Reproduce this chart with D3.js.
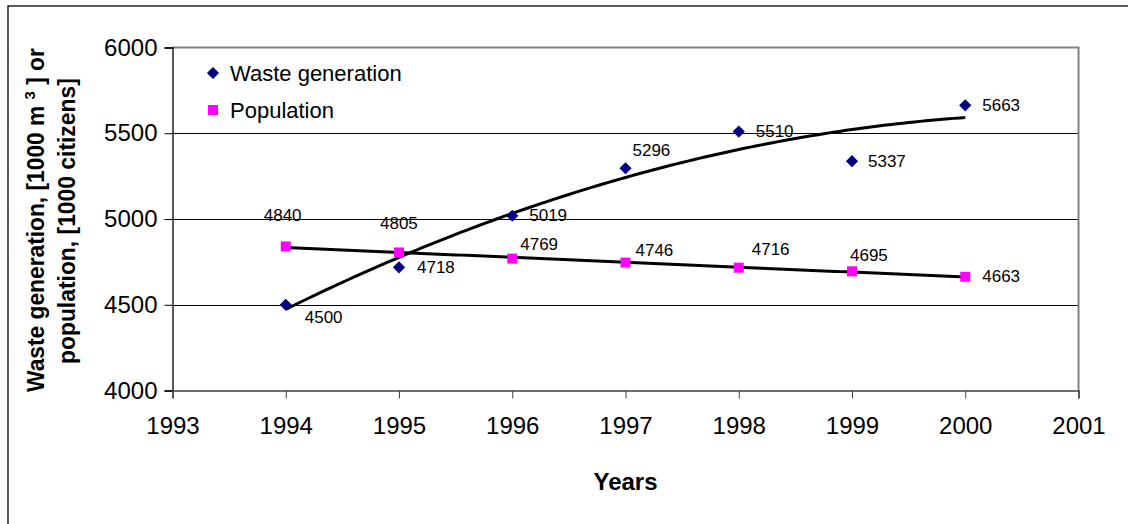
<!DOCTYPE html>
<html><head><meta charset="utf-8">
<script src="https://cdn.jsdelivr.net/npm/d3@7"></script>
<style>body{margin:0;background:#fff}svg{display:block;font-family:"Liberation Sans",Arial,sans-serif}</style>
</head><body><svg id="c" width="1128" height="524"></svg>
<script>
const years = [1994, 1995, 1996, 1997, 1998, 1999, 2000];
const waste = [4500, 4718, 5019, 5296, 5510, 5337, 5663];
const population = [4840, 4805, 4769, 4746, 4716, 4695, 4663];
const xTicks = [1993, 1994, 1995, 1996, 1997, 1998, 1999, 2000, 2001];
const yTicks = [4000, 4500, 5000, 5500, 6000];
const seriesNames = ["Waste generation", "Population"];
// label offsets (layout only): [dx, dy] relative to point, text-anchor start
const wasteLabelOff = [[19,12],[18,0],[17,-1],[7,-18],[17,0],[16,0],[17,0]];
const popLabelOff = [[-22,-31],[-19,-29],[8,-15],[10,-13],[13,-19],[-2,-16],[17,-1]];

const svg = d3.select("#c");
const m = {l:172.5, r:1078.5, t:47.5, b:390.5};
const x = d3.scaleLinear().domain([1993, 2001]).range([m.l, m.r]);
const y = d3.scaleLinear().domain([4000, 6000]).range([m.b, m.t]);

// outer border
svg.append("rect").attr("x",8).attr("y",6).attr("width",1200).attr("height",600)
  .attr("fill","none").attr("stroke","#000").attr("stroke-width",1.3);

// gridlines
svg.append("g").selectAll("line").data(yTicks.filter(d=>d>4000 && d<6000)).join("line")
  .attr("x1",m.l).attr("x2",m.r).attr("y1",d=>Math.round(y(d))+0.5).attr("y2",d=>Math.round(y(d))+0.5)
  .attr("stroke","#000").attr("stroke-width",1);
// plot border top/right (gray)
svg.append("path").attr("d",`M${m.l},${m.t}H${m.r}V${m.b}`).attr("fill","none").attr("stroke","#808080").attr("stroke-width",2);

// axes
const yAxis = d3.axisLeft(y).tickValues(yTicks).tickSize(8).tickPadding(7).tickFormat(d3.format("d"));
const gy = svg.append("g").attr("transform",`translate(${m.l},0)`).call(yAxis);
gy.select(".domain").attr("stroke","#000").attr("stroke-width",1.3);
gy.selectAll(".tick line").attr("stroke","#000");
gy.selectAll("text").attr("font-size",24).attr("fill","#000").attr("font-family","Liberation Sans, Arial, sans-serif");

const xAxis = d3.axisBottom(x).tickValues(xTicks).tickSize(8).tickPadding(18).tickFormat(d3.format("d"));
const gx = svg.append("g").attr("transform",`translate(0,${m.b})`).call(xAxis);
gx.select(".domain").attr("stroke","#404040").attr("stroke-width",1.5);
gx.selectAll(".tick line").attr("stroke","#404040");
gx.selectAll("text").attr("font-size",24).attr("fill","#000").attr("font-family","Liberation Sans, Arial, sans-serif");

// trendlines (least-squares fits of the data)
function polyfit(xs, ys, deg){
  const n = deg+1, A = Array.from({length:n},()=>Array(n+1).fill(0));
  xs.forEach((xv,i)=>{ for(let r=0;r<n;r++){ for(let c=0;c<n;c++) A[r][c]+=Math.pow(xv,r+c); A[r][n]+=ys[i]*Math.pow(xv,r);} });
  for(let i=0;i<n;i++){ let p=i; for(let k=i+1;k<n;k++) if(Math.abs(A[k][i])>Math.abs(A[p][i])) p=k; [A[i],A[p]]=[A[p],A[i]];
    for(let k=0;k<n;k++){ if(k===i) continue; const f=A[k][i]/A[i][i]; for(let c=i;c<=n;c++) A[k][c]-=f*A[i][c]; } }
  return A.map((r,i)=>r[n]/r[i]);
}
const t = years.map((d,i)=>i+1);
const cw = polyfit(t, waste, 2), cp = polyfit(t, population, 1);
const samp = d3.range(1, 7.001, 0.05);
const line = d3.line().x(d=>x(1993+d[0])).y(d=>y(d[1])).curve(d3.curveLinear);
svg.append("path").attr("d", line(samp.map(s=>[s, cw[0]+cw[1]*s+cw[2]*s*s])))
  .attr("fill","none").attr("stroke","#000").attr("stroke-width",3);
svg.append("path").attr("d", line(samp.map(s=>[s, cp[0]+cp[1]*s])))
  .attr("fill","none").attr("stroke","#000").attr("stroke-width",3);

// markers
const diamond = d3.symbol().type(d3.symbolDiamond2).size(95);
svg.append("g").selectAll("path").data(years).join("path")
  .attr("transform",(d,i)=>`translate(${x(d)},${y(waste[i])})`).attr("d",diamond()).attr("fill","#000080");
svg.append("g").selectAll("rect").data(years).join("rect")
  .attr("x",d=>x(d)-5).attr("y",(d,i)=>y(population[i])-5).attr("width",10).attr("height",10).attr("fill","#ff00ff");

// data labels
svg.append("g").selectAll("text").data(years).join("text")
  .attr("x",(d,i)=>x(d)+wasteLabelOff[i][0]).attr("y",(d,i)=>y(waste[i])+wasteLabelOff[i][1]).attr("dy","0.35em")
  .attr("font-size",17).text((d,i)=>waste[i]);
svg.append("g").selectAll("text").data(years).join("text")
  .attr("x",(d,i)=>x(d)+popLabelOff[i][0]).attr("y",(d,i)=>y(population[i])+popLabelOff[i][1]).attr("dy","0.35em")
  .attr("font-size",17).text((d,i)=>population[i]);

// legend
const lg = svg.append("g");
lg.append("path").attr("transform","translate(213,73)").attr("d",diamond()).attr("fill","#000080");
lg.append("rect").attr("x",208).attr("y",105).attr("width",10).attr("height",10).attr("fill","#ff00ff");
lg.append("text").attr("x",230).attr("y",73).attr("dy","0.35em").attr("font-size",22).text(seriesNames[0]);
lg.append("text").attr("x",230).attr("y",110).attr("dy","0.35em").attr("font-size",22).text(seriesNames[1]);

// axis titles
svg.append("text").attr("x",x(1997)).attr("y",490).attr("text-anchor","middle").attr("font-size",24).attr("font-weight","bold").text("Years");

function yTitle(build, cx, cy, len){
  const g = svg.append("g");
  const tx = g.append("text").attr("font-size",23).attr("font-weight","bold");
  build(tx);
  const w = tx.node().getComputedTextLength();
  tx.attr("x", -w/2);
  g.attr("transform",`translate(${cx},${cy}) rotate(-90) scale(${len/w},1)`);
}
yTitle(tx=>{
  tx.append("tspan").text("Waste generation, [1000 m  ");
  tx.append("tspan").attr("dy",-9).attr("font-size",15).text("3");
  tx.append("tspan").attr("dy",9).text(" ] or");
}, 44, 220, 344);
yTitle(tx=>{ tx.text("population, [1000 citizens]"); }, 75, 221, 286);
</script></body></html>
